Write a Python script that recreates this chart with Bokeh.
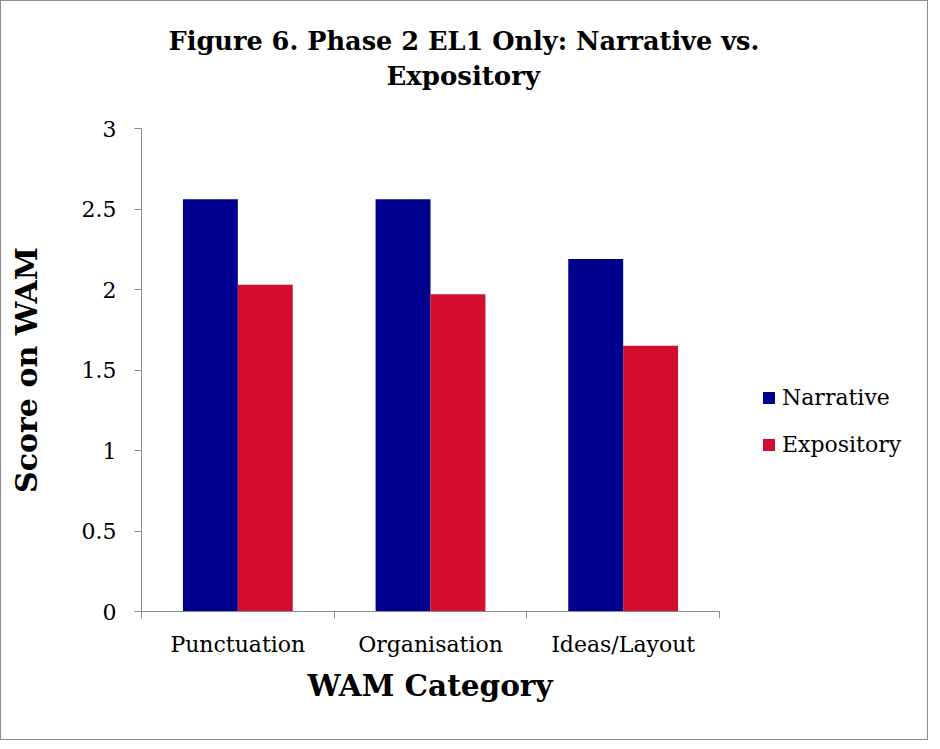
from bokeh.plotting import figure
from bokeh.models import (ColumnDataSource, Range1d, FixedTicker, Title, Legend, LegendItem)
from bokeh.embed import file_html
from bokeh.resources import INLINE

categories = ["Punctuation", "Organisation", "Ideas/Layout"]
narrative = [2.56, 2.56, 2.19]
expository = [2.03, 1.97, 1.65]
series_names = ["Narrative", "Expository"]
colors = ["#00008E", "#D20D30"]
y_ticks = [0, 0.5, 1, 1.5, 2, 2.5, 3]
y_tick_labels = ["0", "0.5", "1", "1.5", "2", "2.5", "3"]
title_lines = ["Figure 6. Phase 2 EL1 Only:  Narrative vs.", "Expository"]
x_title = "WAM Category"
y_title = "Score on WAM"

FONT = "DejaVu Serif"

W, H = 928, 740
FL, FR, FT, FB = 140, 920, 127, 610          # frame edges in canvas px
px_x = 578 / 3.0                              # px per category unit
x_end = (FR - FL) / px_x

p = figure(width=W, height=H, output_backend="svg", toolbar_location=None,
           x_range=Range1d(0, x_end), y_range=Range1d(0, 3),
           min_border_left=FL, min_border_right=W - FR, min_border_top=FT, min_border_bottom=H - FB)
p.styles = {"border": "1px solid #8c8c8c"}
p.outline_line_color = None
p.grid.visible = False
p.background_fill_color = "white"
p.border_fill_color = "white"

centers = [i + 0.5 for i in range(len(categories))]
bw = 0.285
src_n = ColumnDataSource(dict(x=[c - bw / 2 for c in centers], top=narrative))
src_e = ColumnDataSource(dict(x=[c + bw / 2 for c in centers], top=expository))
r1 = p.vbar(x="x", top="top", bottom=0, width=bw, source=src_n, fill_color=colors[0], line_color=None)
r2 = p.vbar(x="x", top="top", bottom=0, width=bw, source=src_e, fill_color=colors[1], line_color=None)

# x axis
xa = p.xaxis[0]
xa.bounds = (0, 3)
xa.ticker = FixedTicker(ticks=centers, minor_ticks=[0, 1, 2, 3])
xa.major_label_overrides = {c: n for c, n in zip(centers, categories)}
xa.major_tick_line_color = None
xa.minor_tick_in = 0
xa.minor_tick_out = 7
xa.minor_tick_line_color = "#8c8c8c"
xa.axis_line_color = "#8c8c8c"
xa.major_label_text_font = FONT
xa.major_label_text_font_size = "22px"
xa.major_label_text_color = "black"
xa.major_label_standoff = 13

# y axis
ya = p.yaxis[0]
ya.ticker = FixedTicker(ticks=y_ticks, minor_ticks=[])
ya.major_label_overrides = {t: l for t, l in zip(y_ticks, y_tick_labels)}
ya.major_tick_in = 0
ya.major_tick_out = 7
ya.major_tick_line_color = "#8c8c8c"
ya.axis_line_color = "#8c8c8c"
ya.major_label_text_font = FONT
ya.major_label_text_font_size = "22px"
ya.major_label_text_color = "black"
ya.major_label_standoff = 18
ya.axis_label = y_title
ya.axis_label_text_font = FONT
ya.axis_label_text_font_style = "bold"
ya.axis_label_text_font_size = "30px"
ya.axis_label_text_color = "black"
ya.axis_label_standoff = 35

# x-axis title below the axis, positioned from the frame's left edge
p.add_layout(Title(text=x_title, align="left", offset=166, standoff=12,
                   text_font=FONT, text_font_style="bold", text_font_size="29.5px",
                   text_color="black"), "below")

# chart title: two lines (first added sits closest to the frame)
p.add_layout(Title(text=title_lines[1], align="left", offset=245, standoff=76,
                   text_font=FONT, text_font_style="bold", text_font_size="26px",
                   text_color="black"), "above")
p.add_layout(Title(text=title_lines[0], align="left", offset=27, standoff=-70,
                   text_font=FONT, text_font_style="bold", text_font_size="25.6px",
                   text_color="black"), "above")

legend = Legend(items=[LegendItem(label=series_names[0], renderers=[r1]),
                       LegendItem(label=series_names[1], renderers=[r2])],
                location=(620, 154), orientation="vertical",
                glyph_width=15, glyph_height=15, label_text_font=FONT,
                label_text_font_size="22px", label_text_color="black",
                spacing=22, padding=0, margin=0, border_line_color=None,
                background_fill_alpha=0, label_standoff=6)
p.add_layout(legend)

open("out.html", "w").write(file_html(p, INLINE))
